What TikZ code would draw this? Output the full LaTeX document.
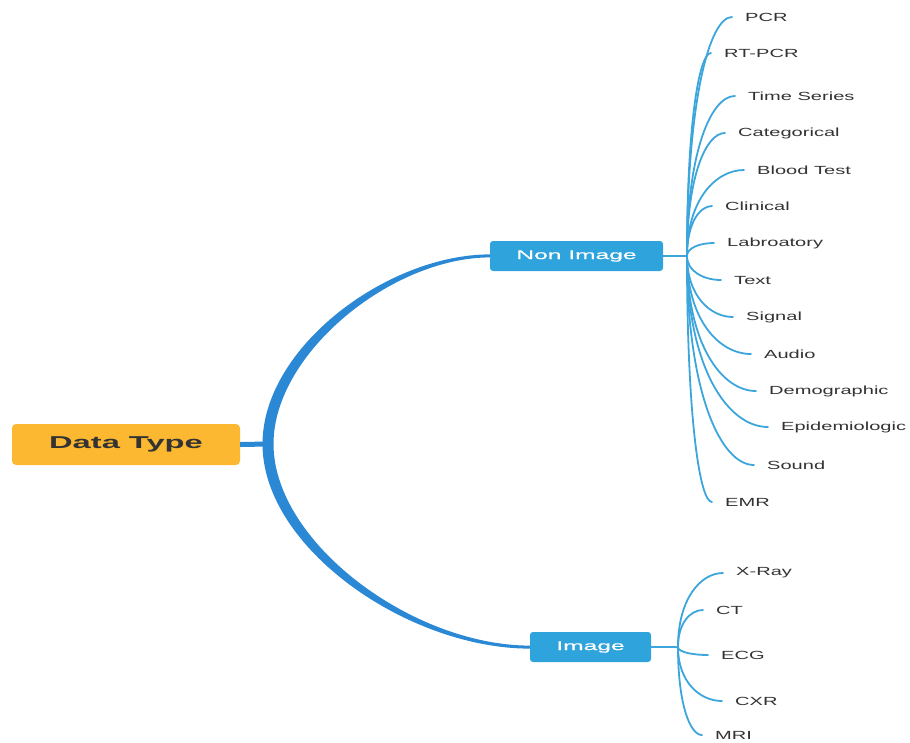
\documentclass[tikz,border=0pt]{standalone}
\usepackage{fontspec}
\usetikzlibrary{calc}
\newfontfamily\lblfont[FakeStretch=1.7]{Liberation Sans}
\newfontfamily\midfont[FakeStretch=1.95,FakeBold=0.6]{Liberation Sans}
\newfontfamily\rootfont[FakeStretch=1.9]{Liberation Sans}
\definecolor{rootorange}{HTML}{FBB830}
\definecolor{nodeblue}{HTML}{2EA3DC}
\definecolor{curveblue}{HTML}{2A88D4}
\definecolor{branchblue}{HTML}{3CA6DC}
\definecolor{txtgray}{HTML}{333333}
\tikzset{
  rootbox/.style={rectangle, rounded corners=4pt, fill=rootorange, minimum width=228pt, minimum height=41pt, inner sep=0pt, text=txtgray, font=\rootfont\bfseries\fontsize{17.2}{20}\selectfont},
  midbox/.style={rectangle, rounded corners=3pt, fill=nodeblue, minimum height=30pt, inner sep=0pt, text=white, font=\midfont\fontsize{12.6}{15}\selectfont},
  lbl/.style={anchor=west, inner xsep=13pt, inner ysep=0pt, text=txtgray, font=\lblfont\fontsize{11.8}{14}\selectfont},
  br/.style={draw=branchblue, line width=1.8pt, line cap=round},
}
\begin{document}
\begin{tikzpicture}[x=1pt,y=-1pt]
\useasboundingbox (0,0) rectangle (910,742);
% nodes
\node[rootbox] (root) at (126,444.5) {Data Type};
\node[midbox, minimum width=173pt] (ni) at (576.5,256) {Non Image};
\node[midbox, minimum width=121pt] (im) at (590.5,647) {Image};
\coordinate (rj) at (268,444);
\coordinate (nj) at (687,256);
\coordinate (ij) at (678,647);
% root connector
\draw[curveblue, line width=5pt] (root.east) -- (rj);
% main tapered curves
\fill[curveblue] ($(rj)+(-5.5,0)$) .. controls ($(rj)+(-5.5,-97)$) and (388,254.4) .. ($(ni.west)+(0,-1.6)$)
  -- ($(ni.west)+(0,1.4)$) .. controls (392,257.6) and ($(rj)+(5.5,-91)$) .. ($(rj)+(5.5,0)$) -- cycle;
\fill[curveblue] ($(rj)+(-5.5,0)$) .. controls ($(rj)+(-5.5,104)$) and (408,648.6) .. ($(im.west)+(0,1.6)$)
  -- ($(im.west)+(0,-1.4)$) .. controls (412,645.4) and ($(rj)+(5.5,98)$) .. ($(rj)+(5.5,0)$) -- cycle;
% mid connectors
\draw[br, line width=2.2pt] (ni.east) -- (nj);
\draw[br, line width=2.2pt] (im.east) -- (ij);
% non image children
\foreach \n/\ex/\ey/\t in {pcr/732/17/PCR, rtpcr/711/53/RT-PCR, ts/735/96/Time Series, cat/725/133/Categorical, bt/744/170/Blood Test, cli/712/206/Clinical, lab/714/243/Labroatory, txt/721/280/Text, sig/733/317/Signal, aud/751/354/Audio, dem/756/391/Demographic, epi/768/427/Epidemiologic, snd/754/465/Sound, emr/712/502/EMR}{
  \node[lbl] (\n) at (\ex,\ey) {\t};
  \pgfmathsetmacro\cay{\ey+(256-\ey)*0.35}
  \pgfmathsetmacro\cbx{\ex-(\ex-687)*0.5}
  \draw[br] (nj) .. controls (687,\cay) and (\cbx,\ey) .. (\n.west);
}
% image children
\foreach \n/\ex/\ey/\t in {xr/723/573/X-Ray, ct/703/610/CT, ecg/708/655/ECG, cxr/722/701/CXR, mri/702/735/MRI}{
  \node[lbl] (\n) at (\ex,\ey) {\t};
  \pgfmathsetmacro\cay{\ey+(647-\ey)*0.35}
  \pgfmathsetmacro\cbx{\ex-(\ex-678)*0.5}
  \draw[br] (ij) .. controls (678,\cay) and (\cbx,\ey) .. (\n.west);
}
\end{tikzpicture}
\end{document}
